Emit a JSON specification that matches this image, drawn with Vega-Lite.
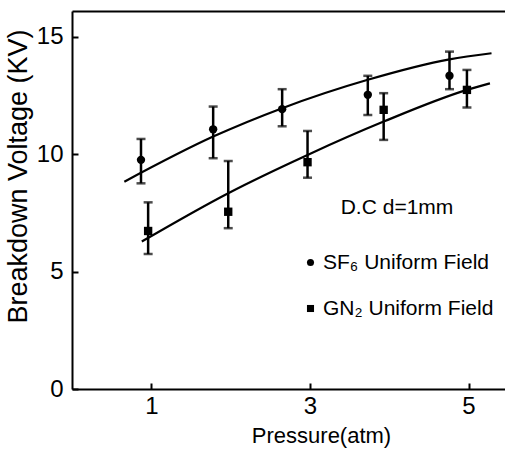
{
  "$schema": "https://vega.github.io/schema/vega-lite/v6.json",
  "width": 433,
  "height": 378,
  "autosize": "none",
  "padding": {"left": 72, "top": 11, "right": 0, "bottom": 60},
  "background": "white",
  "config": {
    "view": {"stroke": null},
    "font": "Liberation Sans",
    "axis": {"grid": false, "domainColor": "black", "domainWidth": 2, "tickColor": "black", "tickWidth": 2, "labelColor": "black", "titleColor": "black", "labelFont": "Liberation Sans", "titleFont": "Liberation Sans", "titleFontWeight": "normal"},
    "legend": {"labelFont": "Liberation Sans", "titleFont": "Liberation Sans"}
  },
  "datasets": {
    "obs": [
      {"gas": "SF₆ Uniform Field", "p": 0.87, "v": 9.76, "lo": 8.76, "hi": 10.65},
      {"gas": "SF₆ Uniform Field", "p": 1.78, "v": 11.06, "lo": 9.83, "hi": 12.03},
      {"gas": "SF₆ Uniform Field", "p": 2.65, "v": 11.92, "lo": 11.19, "hi": 12.77},
      {"gas": "SF₆ Uniform Field", "p": 3.73, "v": 12.53, "lo": 11.67, "hi": 13.34},
      {"gas": "SF₆ Uniform Field", "p": 4.76, "v": 13.34, "lo": 12.77, "hi": 14.37},
      {"gas": "GN₂ Uniform Field", "p": 0.96, "v": 6.73, "lo": 5.75, "hi": 7.95},
      {"gas": "GN₂ Uniform Field", "p": 1.97, "v": 7.55, "lo": 6.85, "hi": 9.71},
      {"gas": "GN₂ Uniform Field", "p": 2.97, "v": 9.66, "lo": 9.0, "hi": 10.99},
      {"gas": "GN₂ Uniform Field", "p": 3.93, "v": 11.89, "lo": 10.61, "hi": 12.6},
      {"gas": "GN₂ Uniform Field", "p": 4.98, "v": 12.74, "lo": 11.99, "hi": 13.59}
    ],
    "fit": [
      {"gas": "SF6", "p": 0.66, "v": 8.83},
      {"gas": "SF6", "p": 1.78, "v": 10.75},
      {"gas": "SF6", "p": 2.65, "v": 11.96},
      {"gas": "SF6", "p": 3.73, "v": 13.17},
      {"gas": "SF6", "p": 4.76, "v": 14.04},
      {"gas": "SF6", "p": 5.29, "v": 14.3},
      {"gas": "GN2", "p": 0.88, "v": 6.28},
      {"gas": "GN2", "p": 1.97, "v": 8.34},
      {"gas": "GN2", "p": 2.97, "v": 9.97},
      {"gas": "GN2", "p": 3.93, "v": 11.39},
      {"gas": "GN2", "p": 4.98, "v": 12.74},
      {"gas": "GN2", "p": 5.27, "v": 13.02}
    ]
  },
  "layer": [
    {
      "data": {"name": "fit"},
      "mark": {"type": "line", "color": "black", "strokeWidth": 2.2, "interpolate": "monotone"},
      "encoding": {
        "x": {"field": "p", "type": "quantitative", "scale": {"domain": [0, 5.46], "nice": false}, "axis": {"orient": "top", "labels": false, "ticks": false, "title": null, "domain": true}},
        "y": {"field": "v", "type": "quantitative", "scale": {"domain": [0, 16.1], "nice": false}, "axis": {"values": [0, 5, 10, 15], "tickSize": -6, "labelFontSize": 24, "labelPadding": 15, "title": "Breakdown Voltage (KV)", "titleFontSize": 27, "titleX": -40, "titleY": 165}},
        "detail": {"field": "gas"}
      }
    },
    {
      "data": {"name": "obs"},
      "mark": {"type": "rule", "color": "black", "strokeWidth": 2.5},
      "encoding": {
        "x": {"field": "p", "type": "quantitative", "axis": {"orient": "bottom", "values": [1, 3, 5], "tickSize": -6, "labelFontSize": 24, "labelPadding": 11, "title": "Pressure(atm)", "titleFontSize": 22, "titleX": 249, "titleY": 53, "titleBaseline": "alphabetic"}},
        "y": {"field": "lo", "type": "quantitative"},
        "y2": {"field": "hi"}
      }
    },
    {
      "data": {"name": "obs"},
      "mark": {"type": "tick", "color": "black", "thickness": 2.5, "size": 9, "orient": "horizontal"},
      "encoding": {
        "x": {"field": "p", "type": "quantitative", "axis": null},
        "y": {"field": "hi", "type": "quantitative"}
      }
    },
    {
      "data": {"name": "obs"},
      "mark": {"type": "tick", "color": "black", "thickness": 2.5, "size": 9, "orient": "horizontal"},
      "encoding": {
        "x": {"field": "p", "type": "quantitative", "axis": null},
        "y": {"field": "lo", "type": "quantitative"}
      }
    },
    {
      "data": {"name": "obs"},
      "mark": {"type": "point", "filled": true, "color": "black", "opacity": 1, "size": 70},
      "encoding": {
        "x": {"field": "p", "type": "quantitative", "axis": null},
        "y": {"field": "v", "type": "quantitative"},
        "shape": {"field": "gas", "type": "nominal", "scale": {"domain": ["SF₆ Uniform Field", "GN₂ Uniform Field"], "range": ["circle", "square"]},
          "legend": {"orient": "none", "legendX": 228, "legendY": 186, "title": "D.C   d=1mm", "titleFontSize": 21, "titleFontWeight": "normal", "titleAnchor": "middle", "titlePadding": 34, "labelFontSize": 21, "labelLimit": 0, "labelColor": "black", "titleColor": "black", "rowPadding": 24, "symbolSize": 50, "symbolFillColor": "black", "symbolStrokeColor": "black", "symbolOffset": 0, "labelOffset": 2}}
      }
    }
  ]
}
